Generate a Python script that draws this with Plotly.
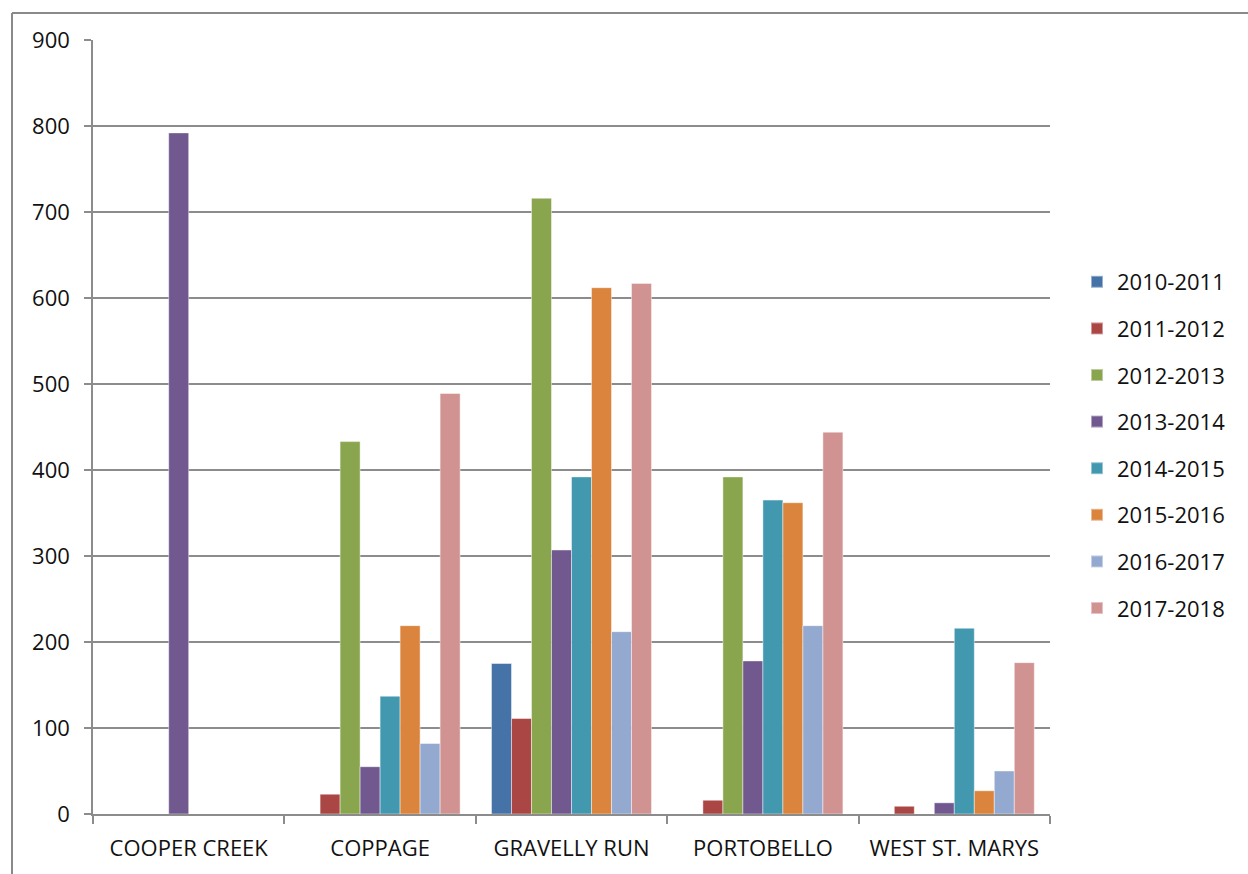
import plotly.graph_objects as go

sites = ["COOPER CREEK", "COPPAGE", "GRAVELLY RUN", "PORTOBELLO", "WEST ST. MARYS"]
seasons = ["2010-2011", "2011-2012", "2012-2013", "2013-2014",
           "2014-2015", "2015-2016", "2016-2017", "2017-2018"]

# counts per site for each season (None = no record)
s2010_2011 = [None, None, 175, None, None]
s2011_2012 = [None, 23, 111, 16, 9]
s2012_2013 = [None, 433, 716, 392, None]
s2013_2014 = [792, 55, 307, 178, 13]
s2014_2015 = [None, 137, 392, 365, 216]
s2015_2016 = [None, 219, 612, 362, 27]
s2016_2017 = [None, 82, 212, 219, 50]
s2017_2018 = [None, 489, 617, 444, 176]

series = [s2010_2011, s2011_2012, s2012_2013, s2013_2014,
          s2014_2015, s2015_2016, s2016_2017, s2017_2018]
colors = ["#4572A7", "#AA4643", "#89A54E", "#71588F",
          "#4198AF", "#DB843D", "#93A9CF", "#D19392"]

y_ticks = [0, 100, 200, 300, 400, 500, 600, 700, 800, 900]

fig = go.Figure()
for name, vals, col in zip(seasons, series, colors):
    fig.add_trace(go.Bar(
        x=sites, y=vals, name=name, legendgroup=name,
        marker=dict(color=col, line=dict(color="rgba(255,255,255,0.45)", width=1)),
    ))

W, H = 1248, 874
L, R, T, B = 93, 1050, 40, 814
grid = "#8C8C8C"
font = "Open Sans"
txt = "#111111"
fs = 22

fig.update_layout(
    width=W, height=H,
    margin=dict(l=L, r=W - R, t=T, b=H - B),
    paper_bgcolor="white", plot_bgcolor="white",
    barmode="group", bargap=0.164, bargroupgap=0,
    font=dict(family=font, size=fs, color=txt),
    showlegend=True,
    legend=dict(
        x=(1077 - L) / (R - L), xanchor="left",
        y=(B - 445) / (B - T), yanchor="middle",
        font=dict(family=font, size=fs, color=txt),
        tracegroupgap=15, itemsizing="constant",
        bgcolor="rgba(0,0,0,0)",
    ),
    xaxis=dict(
        showline=True, linecolor=grid, linewidth=1.5,
        ticks="outside", tickson="boundaries", ticklen=8, tickcolor=grid, tickwidth=1.5,
        ticklabelstandoff=14,
        tickfont=dict(family=font, size=fs, color=txt),
        showgrid=False, fixedrange=True,
    ),
    yaxis=dict(
        range=[0, 900], tickvals=y_ticks,
        showline=True, linecolor=grid, linewidth=1.5,
        ticks="outside", ticklen=7, tickcolor=grid, tickwidth=1.5,
        ticklabelstandoff=10,
        showgrid=True, gridcolor=grid, gridwidth=1.5,
        zeroline=False,
        tickfont=dict(family=font, size=fs, color=txt),
    ),
)

# chart-area frame along the top and left edges
px = lambda v: (v - L) / (R - L)
py = lambda v: (B - v) / (B - T)
fig.add_shape(type="line", xref="paper", yref="paper",
              x0=px(12), x1=px(W + 5), y0=py(13), y1=py(13),
              line=dict(color="#8A8A8A", width=2))
fig.add_shape(type="line", xref="paper", yref="paper",
              x0=px(12), x1=px(12), y0=py(13), y1=py(H + 5),
              line=dict(color="#8A8A8A", width=2))

fig.write_html("out.html")
